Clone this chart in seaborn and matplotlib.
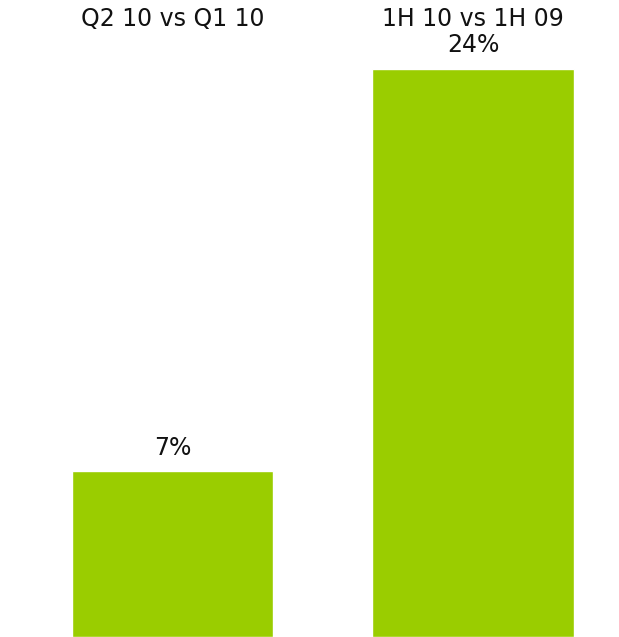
import matplotlib
matplotlib.use("Agg")
import matplotlib.pyplot as plt
import seaborn as sns
import pandas as pd

categories = ["Q2 10 vs Q1 10", "1H 10 vs 1H 09"]
growth_pct = [7, 24]

df = pd.DataFrame({"period": categories, "growth": growth_pct})

sns.set_theme(style="white")
plt.rcParams["font.family"] = ["DejaVu Sans"]

fig = plt.figure(figsize=(6.19, 6.37), dpi=100)
ax = fig.add_axes([0, 0, 1, 1])

sns.barplot(data=df, x="period", y="growth", color="#9ACD00", saturation=1,
            width=0.67, ax=ax)

ax.set_xlim(-0.574, 1.486)
ax.set_ylim(0, 26.915)
ax.axis("off")

for i, (cat, val) in enumerate(zip(categories, growth_pct)):
    ax.text(i, 1 - 19 / 637, cat, transform=ax.get_xaxis_transform(), ha="center",
            va="center", fontsize=17, color="#111111")
    ax.annotate(f"{val}%", (i, val), xytext=(0, 17), textcoords="offset points",
                ha="center", va="center", fontsize=17, color="#111111")

fig.savefig("out.png", dpi=100)
